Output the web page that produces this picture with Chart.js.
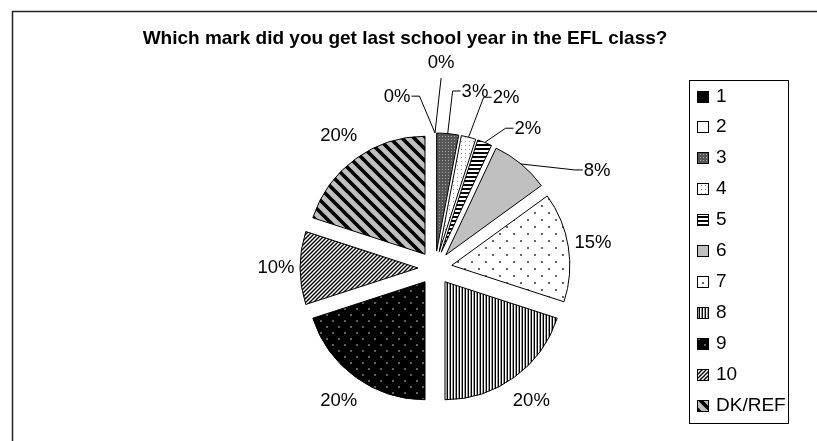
<!DOCTYPE html>
<html>
<head>
<meta charset="utf-8">
<title>Marks in the EFL class</title>
<script src="https://cdn.jsdelivr.net/npm/chart.js@4.4.1/dist/chart.umd.min.js"></script>
<style>
  html, body { margin: 0; padding: 0; background: #fff; }
  #wrap { position: relative; width: 817px; height: 441px; }
</style>
</head>
<body>
<div id="wrap"><canvas id="marks"></canvas></div>
<script>
const marks = ['1', '2', '3', '4', '5', '6', '7', '8', '9', '10', 'DK/REF'];
const shares = [0, 0, 3, 2, 2, 8, 15, 20, 20, 10, 20];
const titleText = 'Which mark did you get last school year in the EFL class?';

const FONT = '"Liberation Sans", Arial, sans-serif';
const EXPLODE = 17;

// thin slices get their label pulled out on a leader line:
// [degrees clockwise from 12 o'clock, distance from pie centre]
const leaderSpots = {
    0: [1.7, 205],
    1: [347.5, 175],
    2: [12.8, 180.5],
    3: [22.7, 184],
    4: [33.8, 167],
    5: [59.1, 189]
};

function tile(w, h, paint) {
    const c = document.createElement('canvas');
    c.width = w;
    c.height = h;
    const g = c.getContext('2d');
    paint(g, w, h);
    return g.createPattern(c, 'repeat');
}

function dotted(size, bg, fg, pts, r) {
    return tile(size, size, g => {
        g.fillStyle = bg;
        g.fillRect(0, 0, size, size);
        g.fillStyle = fg;
        pts.forEach(([x, y]) => {
            g.beginPath();
            g.arc(x, y, r, 0, Math.PI * 2);
            g.fill();
        });
    });
}

function hatch(p, bg, fg, lw, rising) {
    return tile(p, p, g => {
        g.fillStyle = bg;
        g.fillRect(0, 0, p, p);
        g.strokeStyle = fg;
        g.lineWidth = lw;
        g.beginPath();
        for (let k = -1; k <= 2; k++) {
            if (rising) {
                g.moveTo(k * p + p, -p);
                g.lineTo(k * p - 2 * p, 2 * p);
            } else {
                g.moveTo(k * p - p, -p);
                g.lineTo(k * p + 2 * p, 2 * p);
            }
        }
        g.stroke();
    });
}

const fills = [
    '#000000',
    '#ffffff',
    tile(3, 3, g => {
        g.fillStyle = '#555';
        g.fillRect(0, 0, 3, 3);
        g.fillStyle = '#a5a5a5';
        g.fillRect(1, 1, 1, 1);
    }),
    tile(4, 4, g => {
        g.fillStyle = '#fff';
        g.fillRect(0, 0, 4, 4);
        g.fillStyle = '#999';
        g.fillRect(1, 1, 1, 1);
    }),
    tile(1, 4, g => {
        g.fillStyle = '#fff';
        g.fillRect(0, 0, 1, 4);
        g.fillStyle = '#000';
        g.fillRect(0, 0, 1, 2);
    }),
    '#c0c0c0',
    dotted(14, '#fff', '#333', [[3, 3], [10, 10]], 1),
    tile(3, 1, g => {
        g.fillStyle = '#000';
        g.fillRect(0, 0, 1, 1);
        g.fillStyle = '#fff';
        g.fillRect(1, 0, 1, 1);
        g.fillStyle = '#999';
        g.fillRect(2, 0, 1, 1);
    }),
    dotted(12, '#000', '#ddd', [[3, 3], [9, 9]], 0.8),
    hatch(4, '#fff', '#000', 1.4, true),
    hatch(12, '#c0c0c0', '#000', 3.6, false)
];

// push every slice out along its bisector
const explode = {
    id: 'explode',
    afterDatasetUpdate(chart, args) {
        args.meta.data.forEach(arc => {
            const mid = (arc.startAngle + arc.endAngle) / 2;
            arc.x += Math.cos(mid) * EXPLODE;
            arc.y += Math.sin(mid) * EXPLODE;
        });
    }
};

const frame = {
    id: 'frame',
    beforeDraw(chart) {
        const ctx = chart.ctx;
        ctx.save();
        ctx.fillStyle = '#fff';
        ctx.fillRect(0, 0, chart.width, chart.height);
        ctx.strokeStyle = '#222';
        ctx.lineWidth = 1.5;
        ctx.beginPath();
        ctx.moveTo(12.5, chart.height);
        ctx.lineTo(12.5, 11.5);
        ctx.lineTo(chart.width, 11.5);
        ctx.stroke();

        ctx.fillStyle = '#000';
        ctx.font = `bold 19px ${FONT}`;
        ctx.textAlign = 'center';
        ctx.textBaseline = 'middle';
        ctx.fillText(titleText, 405, 39);
        ctx.restore();
    }
};

const sliceLabels = {
    id: 'sliceLabels',
    afterDatasetsDraw(chart) {
        const ctx = chart.ctx;
        const area = chart.chartArea;
        const cx = (area.left + area.right) / 2;
        const cy = (area.top + area.bottom) / 2;
        ctx.save();
        ctx.font = `18.5px ${FONT}`;
        ctx.fillStyle = '#000';
        ctx.strokeStyle = '#000';
        ctx.lineWidth = 1;
        ctx.textAlign = 'center';
        ctx.textBaseline = 'middle';

        chart.getDatasetMeta(0).data.forEach((arc, i) => {
            const text = shares[i] + '%';
            const mid = (arc.startAngle + arc.endAngle) / 2;
            const r = arc.outerRadius;
            const spot = leaderSpots[i];

            if (!spot) {
                const d = r + 24 + 6 * Math.abs(Math.sin(mid));
                ctx.fillText(text, arc.x + Math.cos(mid) * d, arc.y + Math.sin(mid) * d);
                return;
            }

            const a = (spot[0] - 90) * Math.PI / 180;
            const lx = cx + Math.cos(a) * spot[1];
            const ly = cy + Math.sin(a) * spot[1];
            const half = ctx.measureText(text).width / 2;
            const px = arc.x + Math.cos(mid) * r;
            const py = arc.y + Math.sin(mid) * r;

            ctx.beginPath();
            ctx.moveTo(px, py);
            if (Math.abs(lx - px) < half) {
                ctx.lineTo(lx, ly + 15);
            } else {
                const side = lx > px ? -1 : 1;
                const edge = lx + side * (half + 1);
                ctx.lineTo(edge + side * 8, ly - 1);
                ctx.lineTo(edge, ly - 1);
            }
            ctx.stroke();
            ctx.fillText(text, lx, ly);
        });
        ctx.restore();
    }
};

const boxLegend = {
    id: 'boxLegend',
    afterDraw(chart) {
        const ctx = chart.ctx;
        const ds = chart.data.datasets[0];
        ctx.save();
        ctx.strokeStyle = '#000';
        ctx.lineWidth = 1;
        ctx.strokeRect(689.5, 80.5, 99, 343);
        ctx.font = `19px ${FONT}`;
        ctx.textAlign = 'left';
        ctx.textBaseline = 'middle';
        chart.data.labels.forEach((label, i) => {
            const y = Math.round(96.5 + i * 30.9);
            ctx.fillStyle = ds.backgroundColor[i];
            ctx.fillRect(697, y - 6, 12, 12);
            ctx.strokeRect(697.5, y - 5.5, 11, 11);
            ctx.fillStyle = '#000';
            ctx.fillText(label, 716, y);
        });
        ctx.restore();
    }
};

new Chart(document.getElementById('marks'), {
    type: 'pie',
    data: {
        labels: marks,
        datasets: [{
            data: shares,
            backgroundColor: fills,
            borderColor: '#000',
            borderWidth: 1,
            radius: 118
        }]
    },
    options: {
        responsive: true,
        maintainAspectRatio: false,
        animation: false,
        events: [],
        layout: { padding: { top: 95, left: 53, right: 0, bottom: 0 } },
        plugins: {
            legend: { display: false },
            title: { display: false },
            tooltip: { enabled: false }
        }
    },
    plugins: [explode, frame, sliceLabels, boxLegend]
});
</script>
</body>
</html>
